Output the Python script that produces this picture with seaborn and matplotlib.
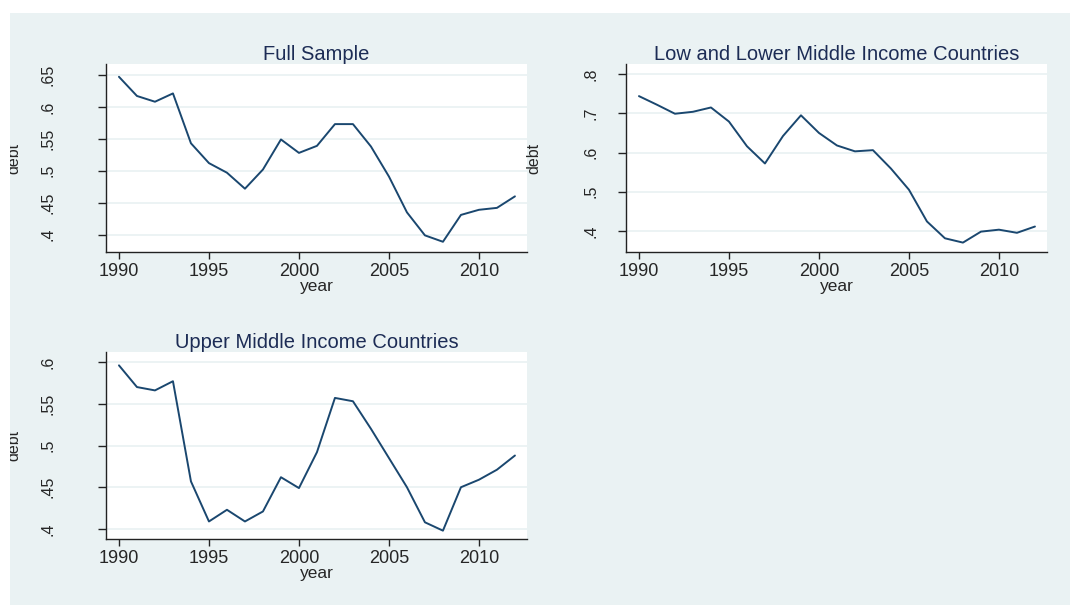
import matplotlib
matplotlib.use("Agg")
import matplotlib.pyplot as plt
from matplotlib.patches import Rectangle
import pandas as pd
import seaborn as sns

YEARS = list(range(1990, 2013))

FULL_SAMPLE = [0.647, 0.617, 0.608, 0.621, 0.543, 0.512, 0.497, 0.472, 0.502, 0.549,
               0.528, 0.539, 0.573, 0.573, 0.538, 0.491, 0.435, 0.399, 0.389, 0.431,
               0.439, 0.442, 0.460]
LOW_INCOME = [0.744, 0.722, 0.699, 0.704, 0.715, 0.679, 0.616, 0.572, 0.642, 0.695,
              0.650, 0.618, 0.603, 0.606, 0.559, 0.505, 0.424, 0.381, 0.370, 0.398,
              0.403, 0.395, 0.411]
UPPER_INCOME = [0.596, 0.570, 0.566, 0.577, 0.457, 0.409, 0.423, 0.409, 0.421, 0.462,
                0.449, 0.492, 0.557, 0.553, 0.520, 0.485, 0.450, 0.408, 0.398, 0.450,
                0.459, 0.471, 0.488]

TITLES = ["Full Sample", "Low and Lower Middle Income Countries", "Upper Middle Income Countries"]
Y_TICKS = [[0.4, 0.45, 0.5, 0.55, 0.6, 0.65],
           [0.4, 0.5, 0.6, 0.7, 0.8],
           [0.4, 0.45, 0.5, 0.55, 0.6]]
Y_TICK_LABELS = [[".4", ".45", ".5", ".55", ".6", ".65"],
                 [".4", ".5", ".6", ".7", ".8"],
                 [".4", ".45", ".5", ".55", ".6"]]
Y_LIMITS = [(0.373, 0.667), (0.346, 0.826), (0.388, 0.612)]
X_TICKS = [1990, 1995, 2000, 2005, 2010]

BG = "#EAF2F3"
NAVY = "#1A476F"

sns.set_theme(style="white")
plt.rcParams["font.family"] = ["Liberation Sans", "DejaVu Sans"]

fig = plt.figure(figsize=(10.7, 6.05), dpi=100, facecolor="white")
fig.patches.append(Rectangle((10 / 1070, 0), 1, 592 / 605, transform=fig.transFigure,
                             facecolor=BG, edgecolor="none", zorder=-5))

positions = [
    [106 / 1070, 353 / 605, 421 / 1070, 188 / 605],
    [626 / 1070, 353 / 605, 421 / 1070, 188 / 605],
    [106 / 1070, 66 / 605, 421 / 1070, 187 / 605],
]
series = [FULL_SAMPLE, LOW_INCOME, UPPER_INCOME]
tick_pads = [30, 14, 30]
label_x = [-0.2, -0.2, -0.2]

for i, pos in enumerate(positions):
    ax = fig.add_axes(pos)
    df = pd.DataFrame({"year": YEARS, "debt": series[i]})
    sns.lineplot(data=df, x="year", y="debt", ax=ax, color=NAVY, linewidth=1.4)
    ax.set_facecolor("white")
    ax.set_xlim(1989.28, 2012.67)
    ax.set_ylim(*Y_LIMITS[i])
    ax.set_xticks(X_TICKS)
    ax.set_yticks(Y_TICKS[i])
    ax.set_yticklabels(Y_TICK_LABELS[i], rotation=90, va="center")
    for y in Y_TICKS[i]:
        ax.axhline(y, color=BG, linewidth=1.3, zorder=0)
    for side in ["top", "right"]:
        ax.spines[side].set_visible(False)
    for side in ["left", "bottom"]:
        ax.spines[side].set_color("#222222")
        ax.spines[side].set_linewidth(1.0)
    ax.tick_params(axis="x", direction="out", length=5, width=1, color="#222222",
                   labelsize=13, pad=3, bottom=True)
    ax.tick_params(axis="y", direction="out", length=6, width=1, color="#222222",
                   labelsize=11.5, pad=tick_pads[i], left=True)
    ax.set_xlabel("year", fontsize=12.5, labelpad=-1)
    ax.set_ylabel("debt", fontsize=11.5)
    ax.yaxis.set_label_coords(label_x[i], 0.5)
    ax.set_title(TITLES[i], fontsize=14.5, color="#1C2C55", pad=3)

# the left edge of the grey region cuts the y labels
fig.patches.append(Rectangle((0, 0), 10 / 1070, 1, transform=fig.transFigure,
                             facecolor="white", edgecolor="none", zorder=10))
fig.patches.append(Rectangle((0, 592 / 605), 1, 1, transform=fig.transFigure,
                             facecolor="white", edgecolor="none", zorder=10))

fig.savefig("out.png", dpi=100, facecolor="white")
